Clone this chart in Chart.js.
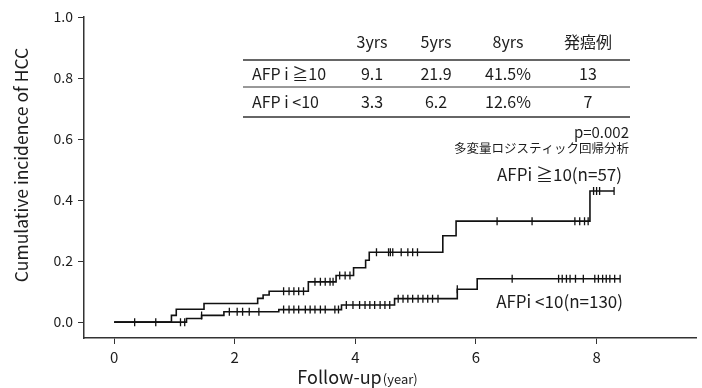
<!DOCTYPE html>
<html>
<head>
<meta charset="utf-8">
<script src="https://cdn.jsdelivr.net/npm/chart.js@4/dist/chart.umd.min.js"></script>
<style>
html,body{margin:0;padding:0;background:#fff;}
#wrap{width:702px;height:388px;position:relative;}
</style>
</head>
<body>
<div id="wrap"><canvas id="c" width="702" height="388"></canvas></div>
<script>
// ---- data ----
const highTimes  = [0, 0.95, 1.03, 1.49, 2.38, 2.47, 2.57, 3.22, 3.68, 3.97, 4.17, 4.23, 5.45, 5.67, 7.89, 8.29];
const highValues = [0, 0.022, 0.042, 0.061, 0.078, 0.089, 0.101, 0.132, 0.153, 0.178, 0.203, 0.229, 0.283, 0.331, 0.43, 0.43];
const highCensored = [0.34, 0.69, 2.81, 2.9, 2.98, 3.06, 3.14, 3.33, 3.42, 3.5, 3.58, 3.63, 3.74, 3.83, 3.91,
  4.35, 4.55, 4.58, 4.62, 4.76, 4.87, 4.95, 5.03, 6.35, 6.93, 7.64, 7.72, 7.8, 7.86, 7.95, 8.0, 8.05, 8.29];

const lowTimes  = [0, 1.2, 1.45, 1.82, 2.73, 3.77, 4.65, 5.69, 6.02, 8.39];
const lowValues = [0, 0.012, 0.022, 0.034, 0.041, 0.056, 0.077, 0.108, 0.142, 0.142];
const lowCensored = [1.1, 1.17, 1.45, 1.91, 2.04, 2.13, 2.24, 2.4, 2.81, 2.9, 2.98, 3.06, 3.17, 3.25, 3.33, 3.42, 3.5,
  3.66, 3.72, 3.85, 3.96, 4.07, 4.16, 4.24, 4.32, 4.41, 4.49, 4.57, 4.71, 4.79, 4.87, 4.95, 5.04, 5.12, 5.2, 5.28,
  5.37, 5.69, 6.6, 7.37, 7.43, 7.5, 7.56, 7.65, 7.78, 7.97, 8.03, 8.1, 8.16, 8.22, 8.3, 8.39];

const xTicks = [0, 2, 4, 6, 8];
const yTicks = [0, 0.2, 0.4, 0.6, 0.8, 1.0];

const tableHeader = ['3yrs', '5yrs', '8yrs', '発癌例'];
const tableRowLabels = ['AFP i ≧10', 'AFP i <10'];
const tableRows = [['9.1', '21.9', '41.5%', '13'], ['3.3', '6.2', '12.6%', '7']];

const pText = 'p=0.002';
const methodText = '多変量ロジスティック回帰分析';
const highLabel = 'AFPi ≧10(n=57)';
const lowLabel = 'AFPi <10(n=130)';
const yTitle = 'Cumulative incidence of HCC';
const xTitleMain = 'Follow-up';
const xTitleUnit = '(year)';

// ---- build ----
function toPoints(ts, vs){ return ts.map((t,i)=>({x:t, y:vs[i]})); }
function valueAt(ts, vs, t){ let v = vs[0]; for(let i=0;i<ts.length;i++){ if(ts[i] <= t) v = vs[i]; } return v; }
function censorPoints(cs, ts, vs){ return cs.map(t=>({x:t, y:valueAt(ts, vs, t)})); }

const FONT = '"Noto Sans CJK JP", "Noto Sans", sans-serif';
const INK = '#1c1c1c';

const overlay = {
  id: 'overlay',
  afterDraw(chart){
    const ctx = chart.ctx;
    ctx.save();
    ctx.fillStyle = INK;
    ctx.strokeStyle = '#333';
    // table
    const colX = [372, 436, 508, 588];
    ctx.font = '16px ' + FONT;
    ctx.textAlign = 'center'; ctx.textBaseline = 'middle';
    tableHeader.forEach((h,i)=>ctx.fillText(h, colX[i], 42));
    [[60,1.3],[87,1],[117,1.3]].forEach(([y,w])=>{
      ctx.lineWidth = w; ctx.beginPath(); ctx.moveTo(243, y); ctx.lineTo(630, y); ctx.stroke();
    });
    const rowY = [74, 102];
    tableRows.forEach((r,ri)=>{
      ctx.textAlign = 'left';
      ctx.fillText(tableRowLabels[ri], 252, rowY[ri]);
      ctx.textAlign = 'center';
      r.forEach((v,ci)=>ctx.fillText(v, colX[ci], rowY[ri]));
    });
    // p value and method
    ctx.textAlign = 'right';
    ctx.font = '15px ' + FONT;
    ctx.fillText(pText, 629, 132);
    ctx.font = '12.5px ' + FONT;
    ctx.fillText(methodText, 629, 148);
    // group labels
    ctx.font = '17px ' + FONT;
    ctx.fillText(highLabel, 622, 175);
    ctx.fillText(lowLabel, 623, 302);
    // axis titles
    ctx.font = '18px ' + FONT;
    const w1 = ctx.measureText(xTitleMain).width;
    ctx.font = '13px ' + FONT;
    const w2 = ctx.measureText(xTitleUnit).width;
    let sx = 357 - (w1 + w2) / 2;
    ctx.textAlign = 'left'; ctx.textBaseline = 'alphabetic';
    ctx.font = '18px ' + FONT;
    ctx.fillText(xTitleMain, sx, 384);
    ctx.font = '13px ' + FONT;
    ctx.fillText(xTitleUnit, sx + w1 + 1, 384);
    ctx.translate(21, 165);
    ctx.rotate(-Math.PI/2);
    ctx.font = '17.5px ' + FONT;
    ctx.textAlign = 'center'; ctx.textBaseline = 'middle';
    ctx.fillText(yTitle, 0, 0);
    ctx.restore();
  }
};

const lineCommon = { type:'line', stepped:'before', borderColor:'#111', borderWidth:1.6, pointRadius:0, fill:false };
const censorCommon = { type:'scatter', showLine:false, pointStyle:'line', rotation:90, pointRadius:4,
  borderColor:'#111', backgroundColor:'#111', pointBorderWidth:1.3, borderWidth:1.3 };

new Chart(document.getElementById('c'), {
  data: {
    datasets: [
      Object.assign({ label: highLabel, data: toPoints(highTimes, highValues) }, lineCommon),
      Object.assign({ label: lowLabel, data: toPoints(lowTimes, lowValues) }, lineCommon),
      Object.assign({ label: 'censor high', data: censorPoints(highCensored, highTimes, highValues) }, censorCommon),
      Object.assign({ label: 'censor low', data: censorPoints(lowCensored, lowTimes, lowValues) }, censorCommon)
    ]
  },
  options: {
    responsive: false,
    animation: false,
    layout: { padding: { top: 17, right: 0, left: 0, bottom: 0 } },
    plugins: { legend: { display: false }, tooltip: { enabled: false } },
    scales: {
      x: {
        type: 'linear', min: -0.5, max: 9.66,
        afterBuildTicks: s => { s.ticks = xTicks.map(v=>({value:v})); },
        afterFit: s => { s.height = 50; },
        grid: { drawOnChartArea: false, drawTicks: true, tickLength: 6, color: '#333', lineWidth: 1 },
        border: { display: true, color: '#333', width: 1.5 },
        ticks: { color: INK, font: { family: FONT, size: 15 }, padding: 4, maxRotation: 0,
          callback: v => String(v) }
      },
      y: {
        type: 'linear', min: -0.052, max: 1.0,
        afterBuildTicks: s => { s.ticks = yTicks.map(v=>({value:v})); },
        afterFit: s => { s.width = 84; },
        grid: { drawOnChartArea: false, drawTicks: true, tickLength: 6, color: '#333', lineWidth: 1 },
        border: { display: true, color: '#333', width: 1.5 },
        ticks: { color: INK, font: { family: FONT, size: 14 }, padding: 5,
          callback: v => Number(v).toFixed(1) }
      }
    }
  },
  plugins: [overlay]
});
</script>
</body>
</html>
